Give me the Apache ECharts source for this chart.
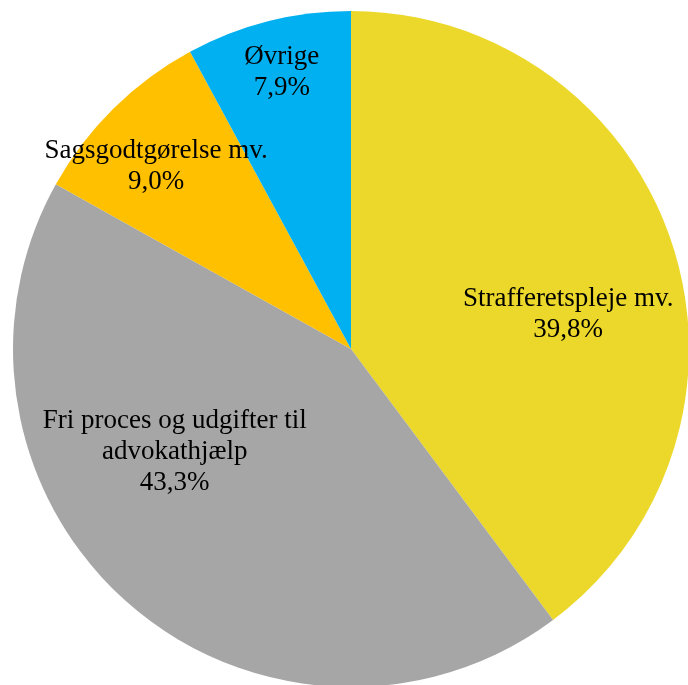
<!DOCTYPE html>
<html>
<head>
<meta charset="utf-8">
<script src="https://cdn.jsdelivr.net/npm/echarts@6/dist/echarts.min.js"></script>
<style>
  html, body { margin: 0; padding: 0; background: #fff; }
  #chart { width: 688px; height: 685px; }
</style>
</head>
<body>
<div id="chart"></div>
<script>
const categories = ['Strafferetspleje mv.', 'Fri proces og udgifter til\nadvokathjælp', 'Sagsgodtgørelse mv.', 'Øvrige']
const values = [39.8, 43.3, 9.0, 7.9]
const colors = ['#ECD82A', '#A6A6A6', '#FFC000', '#00B0F0']
// nudge labels from the default 'inside' spot to where the original has them
const labelOffsets = [[54, 20], [-63, -26], [-74, -60], [-27, -110]]

const myChart = echarts.init(document.getElementById('chart'))

const option = {
  animation: false,
  series: [
    {
      type: 'pie',
      center: [351, 349],
      radius: 338,
      startAngle: 90,
      clockwise: true,
      avoidLabelOverlap: false,
      itemStyle: { borderWidth: 0 },
      label: {
        show: true,
        position: 'inside',
        color: '#000',
        fontFamily: '"Liberation Serif", "Times New Roman", serif',
        fontSize: 27,
        lineHeight: 31,
        align: 'center',
        formatter: p => p.name + '\n' + p.value.toFixed(1).replace('.', ',') + '%'
      },
      labelLine: { show: false },
      emphasis: { disabled: true },
      labelLayout: params => {
        const o = labelOffsets[params.dataIndex]
        return { dx: o[0], dy: o[1] }
      },
      data: categories.map((name, i) => ({
        name: name,
        value: values[i],
        itemStyle: { color: colors[i] }
      }))
    }
  ]
}

myChart.setOption(option)
</script>
</body>
</html>
